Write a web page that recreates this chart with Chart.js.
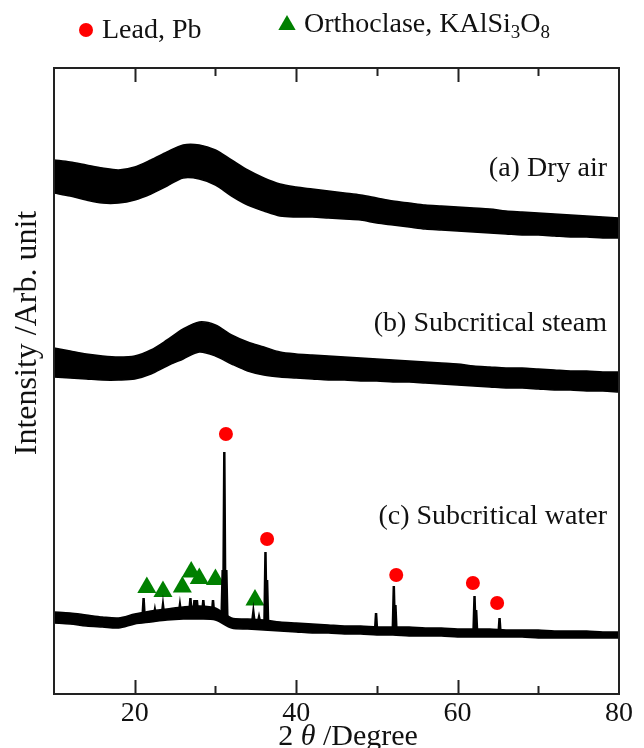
<!DOCTYPE html>
<html>
<head>
<meta charset="utf-8">
<script src="https://cdn.jsdelivr.net/npm/chart.js@4.4.0/dist/chart.umd.min.js"></script>
<style>
  html, body { margin: 0; padding: 0; background: #fff; }
</style>
</head>
<body>
<canvas id="xrd" width="644" height="748"></canvas>
<script>
// 2θ sample positions for the envelopes (degree)
const angles = [10,12,14,16,18,20,22,24,26,28,30,32,34,36,38,40,42,44,46,48,
                50,52,54,56,58,60,62,64,66,68,70,72,74,76,78,80];

// (a) Dry air - upper / lower edge of the noisy trace (arb. unit)
const aUpper = [106.8,106.4,105.8,105.2,104.8,105.4,106.8,108.4,109.8,109.8,108.8,106.8,104.8,103.2,102.0,101.4,101.0,100.6,100.2,99.8,
                99.2,98.6,98.2,97.8,97.6,97.4,97.2,97.0,96.6,96.4,96.2,96.0,95.8,95.6,95.4,95.2];
const aLower = [100.2,99.6,98.8,98.2,98.2,98.8,100.0,101.6,103.2,103.0,101.8,99.6,97.8,96.6,95.6,95.4,95.4,95.2,95.0,94.8,
                94.2,93.8,93.4,93.0,92.8,92.6,92.4,92.2,92.0,91.8,91.8,91.6,91.4,91.4,91.2,91.2];

// (b) Subcritical steam
const bUpper = [69.2,68.6,68.0,67.6,67.4,67.6,68.8,70.8,73.0,74.4,73.8,71.8,70.4,69.4,68.4,68.0,67.8,67.6,67.4,67.2,
                67.0,66.8,66.6,66.4,66.2,66.0,65.6,65.4,65.2,65.2,65.0,64.8,64.6,64.6,64.4,64.4];
const bLower = [63.4,63.2,63.0,62.8,62.8,63.0,64.0,65.6,67.0,68.4,67.6,66.0,64.6,63.8,63.4,63.2,63.0,62.8,62.8,62.6,
                62.6,62.4,62.4,62.2,62.0,61.8,61.6,61.4,61.2,61.2,61.0,60.8,60.8,60.6,60.6,60.4];

// (c) Subcritical water - baseline band
const cUpper = [16.4,16.2,15.8,15.4,15.2,16.0,16.6,17.0,17.4,17.6,17.2,15.2,15.0,14.8,14.4,14.2,14.0,13.8,13.6,13.6,
                13.4,13.4,13.4,13.2,13.2,13.0,13.0,13.0,12.8,12.8,12.8,12.6,12.6,12.6,12.4,12.4];
const cLower = [14.2,14.0,13.6,13.4,13.2,14.0,14.4,14.8,15.0,15.0,14.8,13.2,13.0,12.8,12.6,12.4,12.2,12.2,12.0,12.0,
                11.8,11.8,11.6,11.6,11.6,11.4,11.4,11.4,11.4,11.4,11.2,11.2,11.2,11.2,11.2,11.2];

// (c) diffraction peaks: position, top, foot level
const cPeakX    = [21.1,22.5,23.5,25.6,26.9,27.4,27.7,28.5,29.7,30.9,31.1,31.35,34.7,35.4,36.2,36.4,49.9,52.1,52.3,62.1,62.3,65.2];
const cPeakTop  = [19.2,16.8,17.8,17.8,19.2,18.8,18.8,18.8,18.8,24.8,48.4,24.8, 16.4,15.4,28.4,22.8,16.2,21.6,17.8,19.6,16.8,15.2];
const cPeakBase = [15.4,15.6,16.0,16.2,16.4,16.4,16.4,16.4,16.2,16.0,15.5,15.0, 14.6,14.4,14.0,14.0,12.6,12.6,12.6,12.2,12.2,12.0];

// phase markers
const leadX = [31.3, 36.4, 52.4, 61.9, 64.9];
const leadY = [52.0, 31.0, 23.8, 22.2, 18.2];
const orthoX = [21.5, 23.5, 25.9, 27.0, 28.0, 30.0, 34.9];
const orthoY = [21.3, 20.5, 21.4, 24.4, 23.1, 22.9, 18.8];

const xTickLabels = [20, 40, 60, 80];

const SERIF = '"Liberation Serif", "Times New Roman", serif';

function bandSets(upper, lower) {
  return [
    {
      data: angles.map((x, i) => ({ x: x, y: upper[i] })),
      borderColor: '#000', backgroundColor: '#000', borderWidth: 1.5,
      pointRadius: 0, fill: '+1', tension: 0.3
    },
    {
      data: angles.map((x, i) => ({ x: x, y: lower[i] })),
      borderColor: '#000', borderWidth: 1.5, pointRadius: 0, fill: false, tension: 0.3
    }
  ];
}

// spikes for the peaks, broken by null points
const halfWidth = 0.13;
const peakData = [];
cPeakX.forEach((p, i) => {
  peakData.push({ x: p - halfWidth, y: cPeakBase[i] });
  peakData.push({ x: p, y: cPeakTop[i] });
  peakData.push({ x: p + halfWidth, y: cPeakBase[i] });
  peakData.push({ x: p + halfWidth, y: null });
});

function drawTriangle(ctx, x, y, r) {
  ctx.beginPath();
  ctx.moveTo(x, y - r);
  ctx.lineTo(x + r * Math.sin(2 * Math.PI / 3), y + r / 2);
  ctx.lineTo(x - r * Math.sin(2 * Math.PI / 3), y + r / 2);
  ctx.closePath();
  ctx.fill();
}

// frame, inward ticks and all free text
const decorations = {
  id: 'decorations',
  afterDraw(chart) {
    const ctx = chart.ctx;
    const a = chart.chartArea;
    const xs = chart.scales.x;
    ctx.save();

    // frame
    ctx.strokeStyle = '#222';
    ctx.lineWidth = 2;
    ctx.strokeRect(a.left, a.top, a.right - a.left, a.bottom - a.top);

    // inward tick marks top and bottom
    for (let v = 20; v <= 70; v += 10) {
      const px = Math.round(xs.getPixelForValue(v)) + 0.5;
      const len = v % 20 === 0 ? 14 : 8;
      ctx.beginPath();
      ctx.moveTo(px, a.bottom); ctx.lineTo(px, a.bottom - len);
      ctx.moveTo(px, a.top); ctx.lineTo(px, a.top + len);
      ctx.stroke();
    }

    ctx.textBaseline = 'alphabetic';

    // legend
    ctx.fillStyle = '#ff0000';
    ctx.beginPath(); ctx.arc(86, 30, 7, 0, Math.PI * 2); ctx.fill();
    ctx.fillStyle = '#008000';
    drawTriangle(ctx, 287, 25, 10);

    ctx.fillStyle = '#111';
    ctx.textAlign = 'left';
    ctx.font = '28px ' + SERIF;
    ctx.fillText('Lead, Pb', 102, 38);

    let x = 304;
    const base = 32;
    const parts = [['Orthoclase, KAlSi', false], ['3', true], ['O', false], ['8', true]];
    parts.forEach(([t, sub]) => {
      ctx.font = (sub ? '19px ' : '28px ') + SERIF;
      ctx.fillText(t, x, sub ? base + 6 : base);
      x += ctx.measureText(t).width;
    });

    // trace labels
    ctx.font = '28px ' + SERIF;
    ctx.textAlign = 'right';
    ctx.fillText('(a) Dry air', 607, 176);
    ctx.fillText('(b) Subcritical steam', 607, 331);
    ctx.fillText('(c) Subcritical water', 607, 524);

    // x title
    ctx.textBaseline = 'middle';
    ctx.textAlign = 'left';
    const titleParts = [['2 ', ''], ['θ', 'italic '], [' /Degree', '']];
    let total = 0;
    titleParts.forEach(([t, st]) => { ctx.font = st + '30px ' + SERIF; total += ctx.measureText(t).width; });
    x = 348 - total / 2;
    titleParts.forEach(([t, st]) => {
      ctx.font = st + '30px ' + SERIF;
      ctx.fillText(t, x, 737);
      x += ctx.measureText(t).width;
    });

    // y title
    ctx.translate(28, 333);
    ctx.rotate(-Math.PI / 2);
    ctx.textAlign = 'center';
    ctx.font = '32px ' + SERIF;
    ctx.fillText('Intensity /Arb. unit', 0, 0);

    ctx.restore();
  }
};

new Chart(document.getElementById('xrd'), {
  type: 'line',
  data: {
    datasets: [
      ...bandSets(aUpper, aLower),
      ...bandSets(bUpper, bLower),
      ...bandSets(cUpper, cLower),
      {
        data: peakData, borderColor: '#000', borderWidth: 2.5,
        pointRadius: 0, fill: false, spanGaps: false
      },
      {
        type: 'scatter',
        data: leadX.map((x, i) => ({ x: x, y: leadY[i] })),
        pointStyle: 'circle', pointRadius: 7, pointBorderWidth: 0,
        backgroundColor: '#ff0000', borderColor: '#ff0000'
      },
      {
        type: 'scatter',
        data: orthoX.map((x, i) => ({ x: x, y: orthoY[i] })),
        pointStyle: 'triangle', pointRadius: 11, pointBorderWidth: 0,
        backgroundColor: '#008000', borderColor: '#008000'
      }
    ]
  },
  options: {
    responsive: false,
    animation: false,
    layout: { padding: { left: 54, right: 25, top: 68, bottom: 24 } },
    plugins: { legend: { display: false }, tooltip: { enabled: false } },
    scales: {
      x: {
        type: 'linear', min: 10, max: 80,
        grid: { display: false, drawTicks: false },
        border: { display: false },
        afterFit: s => { s.height = 30; },
        afterBuildTicks: s => { s.ticks = xTickLabels.map(v => ({ value: v })); },
        ticks: {
          color: '#111', padding: 3, maxRotation: 0, autoSkip: false,
          font: { family: SERIF, size: 28 }
        }
      },
      y: {
        display: false, min: 0, max: 125.2
      }
    }
  },
  plugins: [decorations]
});
</script>
</body>
</html>
